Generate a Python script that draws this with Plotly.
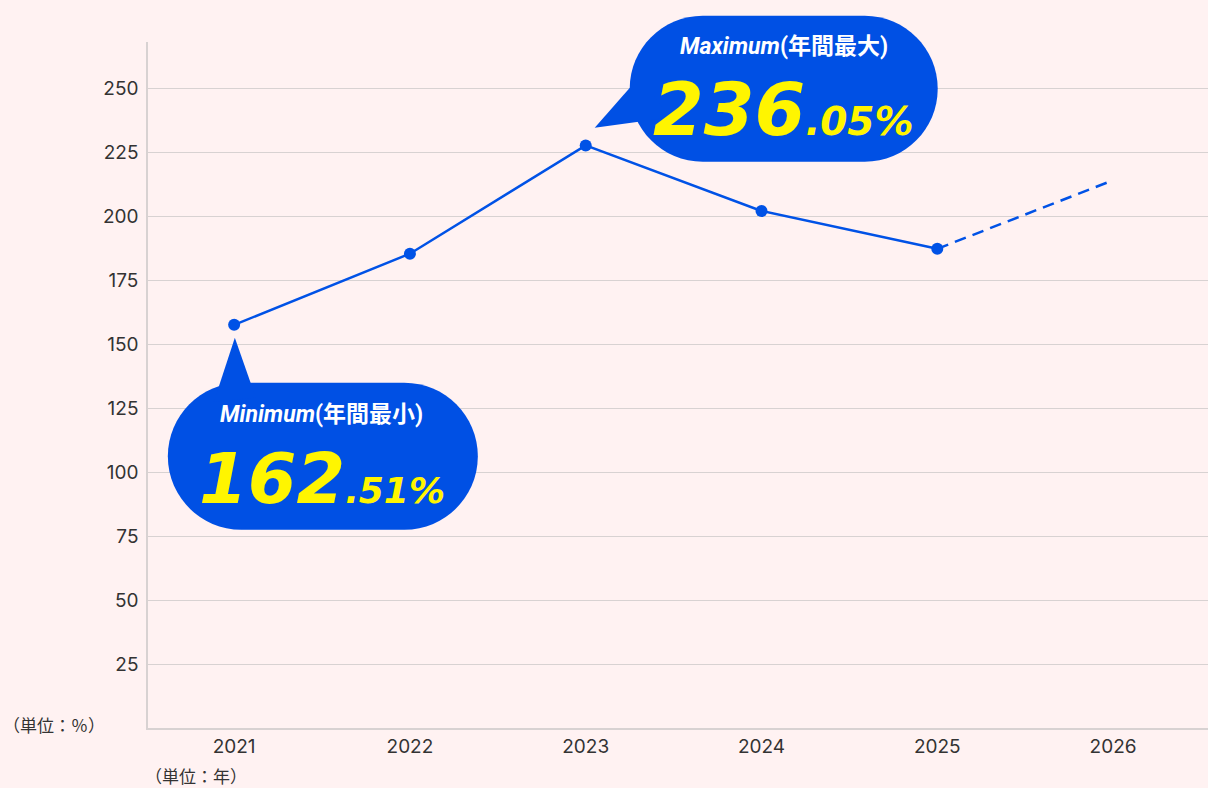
import plotly.graph_objects as go

# ---- data ----
years = [2021, 2022, 2023, 2024, 2025]
values = [157.5, 185.3, 227.6, 202.0, 187.2]
forecast_years = [2025, 2026]
forecast_values = [187.2, 214.0]
y_ticks = [25, 50, 75, 100, 125, 150, 175, 200, 225, 250]
x_ticks = [2021, 2022, 2023, 2024, 2025, 2026]
max_title = ("Maximum", "(年間最大)")
max_value = ("236", ".05%")
min_title = ("Minimum", "(年間最小)")
min_value = ("162", ".51%")
y_unit = "（単位：％）"
x_unit = "（単位：年）"

X_RANGE = [2020.51, 2026.54]
Y_RANGE = [0, 268]

BG = "#fff2f2"
BLUE = "#0052e6"
BUBBLE = "#0050e4"
YELLOW = "#fff500"
GRID = "#d8d2d2"
TEXT = "#333333"
TICK_FONT = "Inter, 'Noto Sans CJK JP'"


def stadium(x0, x1, y0, y1):
    r = (y1 - y0) / 2.0
    k = 0.5523 * r
    cy = (y0 + y1) / 2.0
    c1 = x0 + r
    c2 = x1 - r
    return (f"M{c1},{y1} L{c2},{y1} "
            f"C{c2 + k},{y1} {x1},{cy + k} {x1},{cy} "
            f"C{x1},{cy - k} {c2 + k},{y0} {c2},{y0} "
            f"L{c1},{y0} "
            f"C{c1 - k},{y0} {x0},{cy - k} {x0},{cy} "
            f"C{x0},{cy + k} {c1 - k},{y1} {c1},{y1} Z")


def tri(p):
    return "M" + " L".join(f"{a},{b}" for a, b in p) + " Z"


def to_domain(xv, yv):
    return ((xv - X_RANGE[0]) / (X_RANGE[1] - X_RANGE[0]),
            (yv - Y_RANGE[0]) / (Y_RANGE[1] - Y_RANGE[0]))


fig = go.Figure()
fig.add_trace(go.Scatter(
    x=forecast_years, y=forecast_values, mode="lines",
    line=dict(color=BLUE, width=2.5, dash="11.7px,7.2px"),
    hoverinfo="skip", showlegend=False))
fig.add_trace(go.Scatter(
    x=years, y=values, mode="lines+markers",
    line=dict(color=BLUE, width=2.5),
    marker=dict(color=BLUE, size=12),
    showlegend=False))

imax = values.index(max(values))
imin = values.index(min(values))

shapes = []
for idx, body, tail in [
    (imax, stadium(44, 352, -16.3, 129.7), tri([(9, 17.7), (54, 69), (84, 28)])),
    (imin, stadium(-66.3, 243.7, -205, -58), tri([(0.7, -13), (-20.3, -77), (21.7, -73)])),
]:
    ax, ay = to_domain(years[idx], values[idx])
    for p in (body, tail):
        shapes.append(dict(
            type="path", path=p, xref="x domain", yref="y domain",
            xsizemode="pixel", ysizemode="pixel",
            xanchor=ax, yanchor=ay,
            fillcolor=BUBBLE, line=dict(width=0), layer="above"))

annotations = []
for idx, title, val, hx, hy, vx, vy, big, small in [
    (imax, max_title, max_value, 198.5, 98.7, 198, 35.7, 73, 39),
    (imin, min_title, min_value, 87.7, -90, 88, -154.5, 70, 36),
]:
    annotations.append(dict(
        x=years[idx], y=values[idx], xref="x", yref="y",
        text=f"<b><i>{title[0]}</i>{title[1]}</b>", showarrow=False,
        xshift=hx, yshift=hy, xanchor="center", yanchor="middle",
        font=dict(family="Roboto, 'Noto Sans CJK JP'", size=23, color="white")))
    annotations.append(dict(
        x=years[idx], y=values[idx], xref="x", yref="y",
        text=f"<b><i>{val[0]}<span style='font-size:{small}px'>{val[1]}</span></i></b>",
        showarrow=False, xshift=vx, yshift=vy, xanchor="center", yanchor="middle",
        font=dict(family="'DejaVu Sans'", size=big, color=YELLOW)))

annotations.append(dict(
    x=0, y=0, xref="x domain", yref="y domain", text=y_unit, showarrow=False,
    xanchor="right", yanchor="middle", xshift=-41, yshift=4,
    font=dict(family="'Noto Sans CJK JP'", size=17, color=TEXT)))
annotations.append(dict(
    x=0, y=0, xref="x domain", yref="y domain", text=x_unit, showarrow=False,
    xanchor="left", yanchor="middle", xshift=-5, yshift=-47,
    font=dict(family="'Noto Sans CJK JP'", size=17, color=TEXT)))

fig.update_layout(
    width=1208, height=788,
    margin=dict(l=148, r=0, t=42, b=60),
    paper_bgcolor=BG, plot_bgcolor=BG,
    shapes=shapes, annotations=annotations,
    font=dict(family=TICK_FONT, size=19, color=TEXT),
    xaxis=dict(range=X_RANGE, tickvals=x_ticks,
               ticktext=[str(v) for v in x_ticks],
               showgrid=False, zeroline=False, showline=True,
               linecolor=GRID, linewidth=1.5, ticks="outside", ticklen=0,
               tickcolor="rgba(0,0,0,0)"),
    yaxis=dict(range=Y_RANGE, tickvals=y_ticks, showgrid=True, gridcolor=GRID,
               gridwidth=1, zeroline=False, showline=True, linecolor=GRID,
               linewidth=1.5, ticks="outside", ticklen=4,
               tickcolor="rgba(0,0,0,0)"),
    hovermode=False,
)

fig.write_html(
    "out.html",
    config={"displayModeBar": False},
    post_script="document.body.style.margin='0';document.body.style.background='#fff2f2';")
